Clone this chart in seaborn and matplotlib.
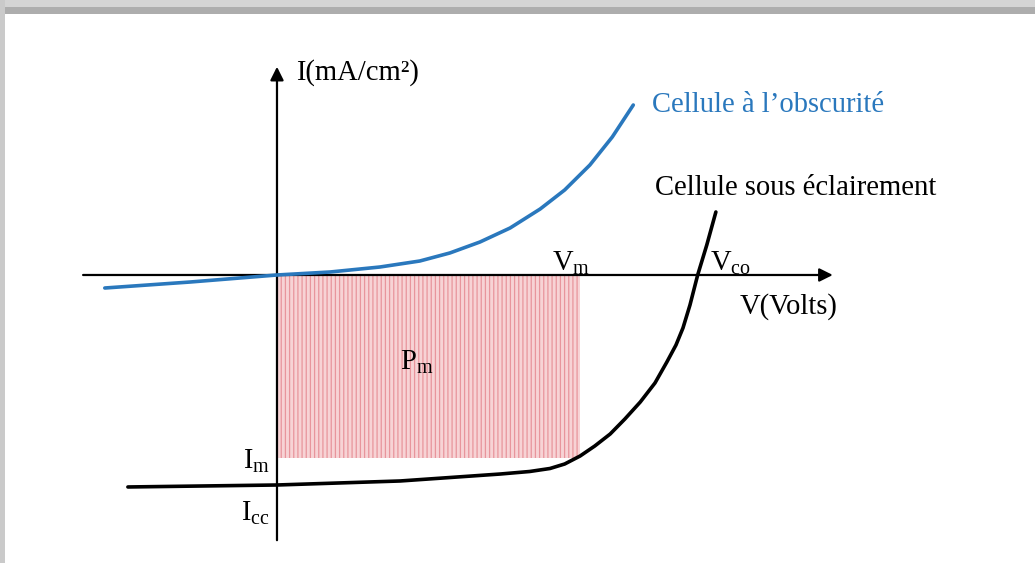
import numpy as np
import seaborn as sns
import matplotlib.pyplot as plt
from matplotlib.patches import Rectangle

# courbe I(V) - cellule dans l'obscurite (V en volts, I en mA/cm2)
dark_v = [-0.246, -0.124, 0.0, 0.076, 0.147, 0.204, 0.247, 0.290, 0.333, 0.376,
          0.411, 0.447, 0.479, 0.509]
dark_i = [-2.17, -1.17, 0.0, 0.5, 1.33, 2.33, 3.67, 5.5, 7.83, 11.0,
          14.17, 18.33, 23.0, 28.33]

# courbe I(V) - cellule sous eclairement
light_v = [-0.213, 0.0, 0.176, 0.319, 0.361, 0.390, 0.411, 0.433, 0.454, 0.476,
           0.497, 0.519, 0.540, 0.557, 0.570, 0.580, 0.590, 0.601, 0.614, 0.627]
light_i = [-35.33, -35.0, -34.33, -33.17, -32.75, -32.25, -31.5, -30.17, -28.5, -26.5,
           -24.0, -21.17, -18.0, -14.5, -11.67, -8.83, -5.0, 0.0, 5.0, 10.5]

# point de puissance maximale, courant de court-circuit, tension de circuit ouvert
v_m = 0.433
i_m = -30.5
i_cc = -35.0
v_co = 0.601

sns.set_theme(style="white")
plt.rcParams['font.family'] = ['Liberation Serif', 'DejaVu Serif']
plt.rcParams['mathtext.fontset'] = 'custom'
plt.rcParams['mathtext.rm'] = 'Liberation Serif'
plt.rcParams['text.color'] = 'black'
plt.rcParams['hatch.linewidth'] = 0.9

fig = plt.figure(figsize=(10.35, 5.63), dpi=100)
ax = fig.add_axes([0, 0, 1, 1])
ax.set_xlim(-0.3957, 1.0829)
ax.set_ylim(-48.0, 45.83)
ax.axis('off')

# cadre gris (ombre du cadre de l'image)
fig.patches.append(Rectangle((0, 1 - 14 / 563), 1, 14 / 563, transform=fig.transFigure,
                             facecolor='#d4d4d4', edgecolor='none', zorder=0))
fig.patches.append(Rectangle((0, 1 - 14 / 563), 1, 7 / 563, transform=fig.transFigure,
                             facecolor='#adadad', edgecolor='none', zorder=0))
fig.patches.append(Rectangle((0, 0), 5 / 1035, 1, transform=fig.transFigure,
                             facecolor='#cacaca', edgecolor='none', zorder=0))

# zone Pm
ax.fill_between([0, v_m], [i_m, i_m], [0, 0], facecolor='#f7d3d5',
                edgecolor='#e8959c', hatch='||||', linewidth=0, zorder=1)

# axes avec fleches
ax.annotate('', xy=(0.794, 0), xytext=(-0.277, 0),
            arrowprops=dict(arrowstyle='-|>', color='black', lw=1.6, mutation_scale=20,
                            shrinkA=0, shrinkB=0), zorder=2)
ax.annotate('', xy=(0, 34.7), xytext=(0, -44.2),
            arrowprops=dict(arrowstyle='-|>', color='black', lw=1.6, mutation_scale=20,
                            shrinkA=0, shrinkB=0), zorder=2)

sns.lineplot(x=dark_v, y=dark_i, ax=ax, color='#2a78bd', lw=2.6, sort=False,
             estimator=None, zorder=3)
sns.lineplot(x=light_v, y=light_i, ax=ax, color='black', lw=2.6, sort=False,
             estimator=None, zorder=3)

fs = 20.6
ax.text(0.027, 33.8, 'I(mA/cm²)', fontsize=fs, ha='left', va='center')
ax.text(0.536, 28.3, 'Cellule à l’obscurité', fontsize=fs, ha='left', va='center',
        color='#2a78bd')
ax.text(0.54, 14.5, 'Cellule sous éclairement', fontsize=fs, ha='left', va='center')
ax.text(0.393, 2.0, r'$\mathrm{V_{m}}$', fontsize=fs, ha='left', va='center')
ax.text(v_co + 0.018, 2.0, r'$\mathrm{V_{co}}$', fontsize=fs, ha='left', va='center')
ax.text(0.661, -5.2, 'V(Volts)', fontsize=fs, ha='left', va='center')
ax.text(0.176, -14.5, r'$\mathrm{P_{m}}$', fontsize=fs, ha='left', va='center')
ax.text(-0.01, i_m - 0.5, r'$\mathrm{I_{m}}$', fontsize=fs, ha='right', va='center')
ax.text(-0.01, i_cc - 4.7, r'$\mathrm{I_{cc}}$', fontsize=fs, ha='right', va='center')

fig.savefig('out.png', dpi=100)
